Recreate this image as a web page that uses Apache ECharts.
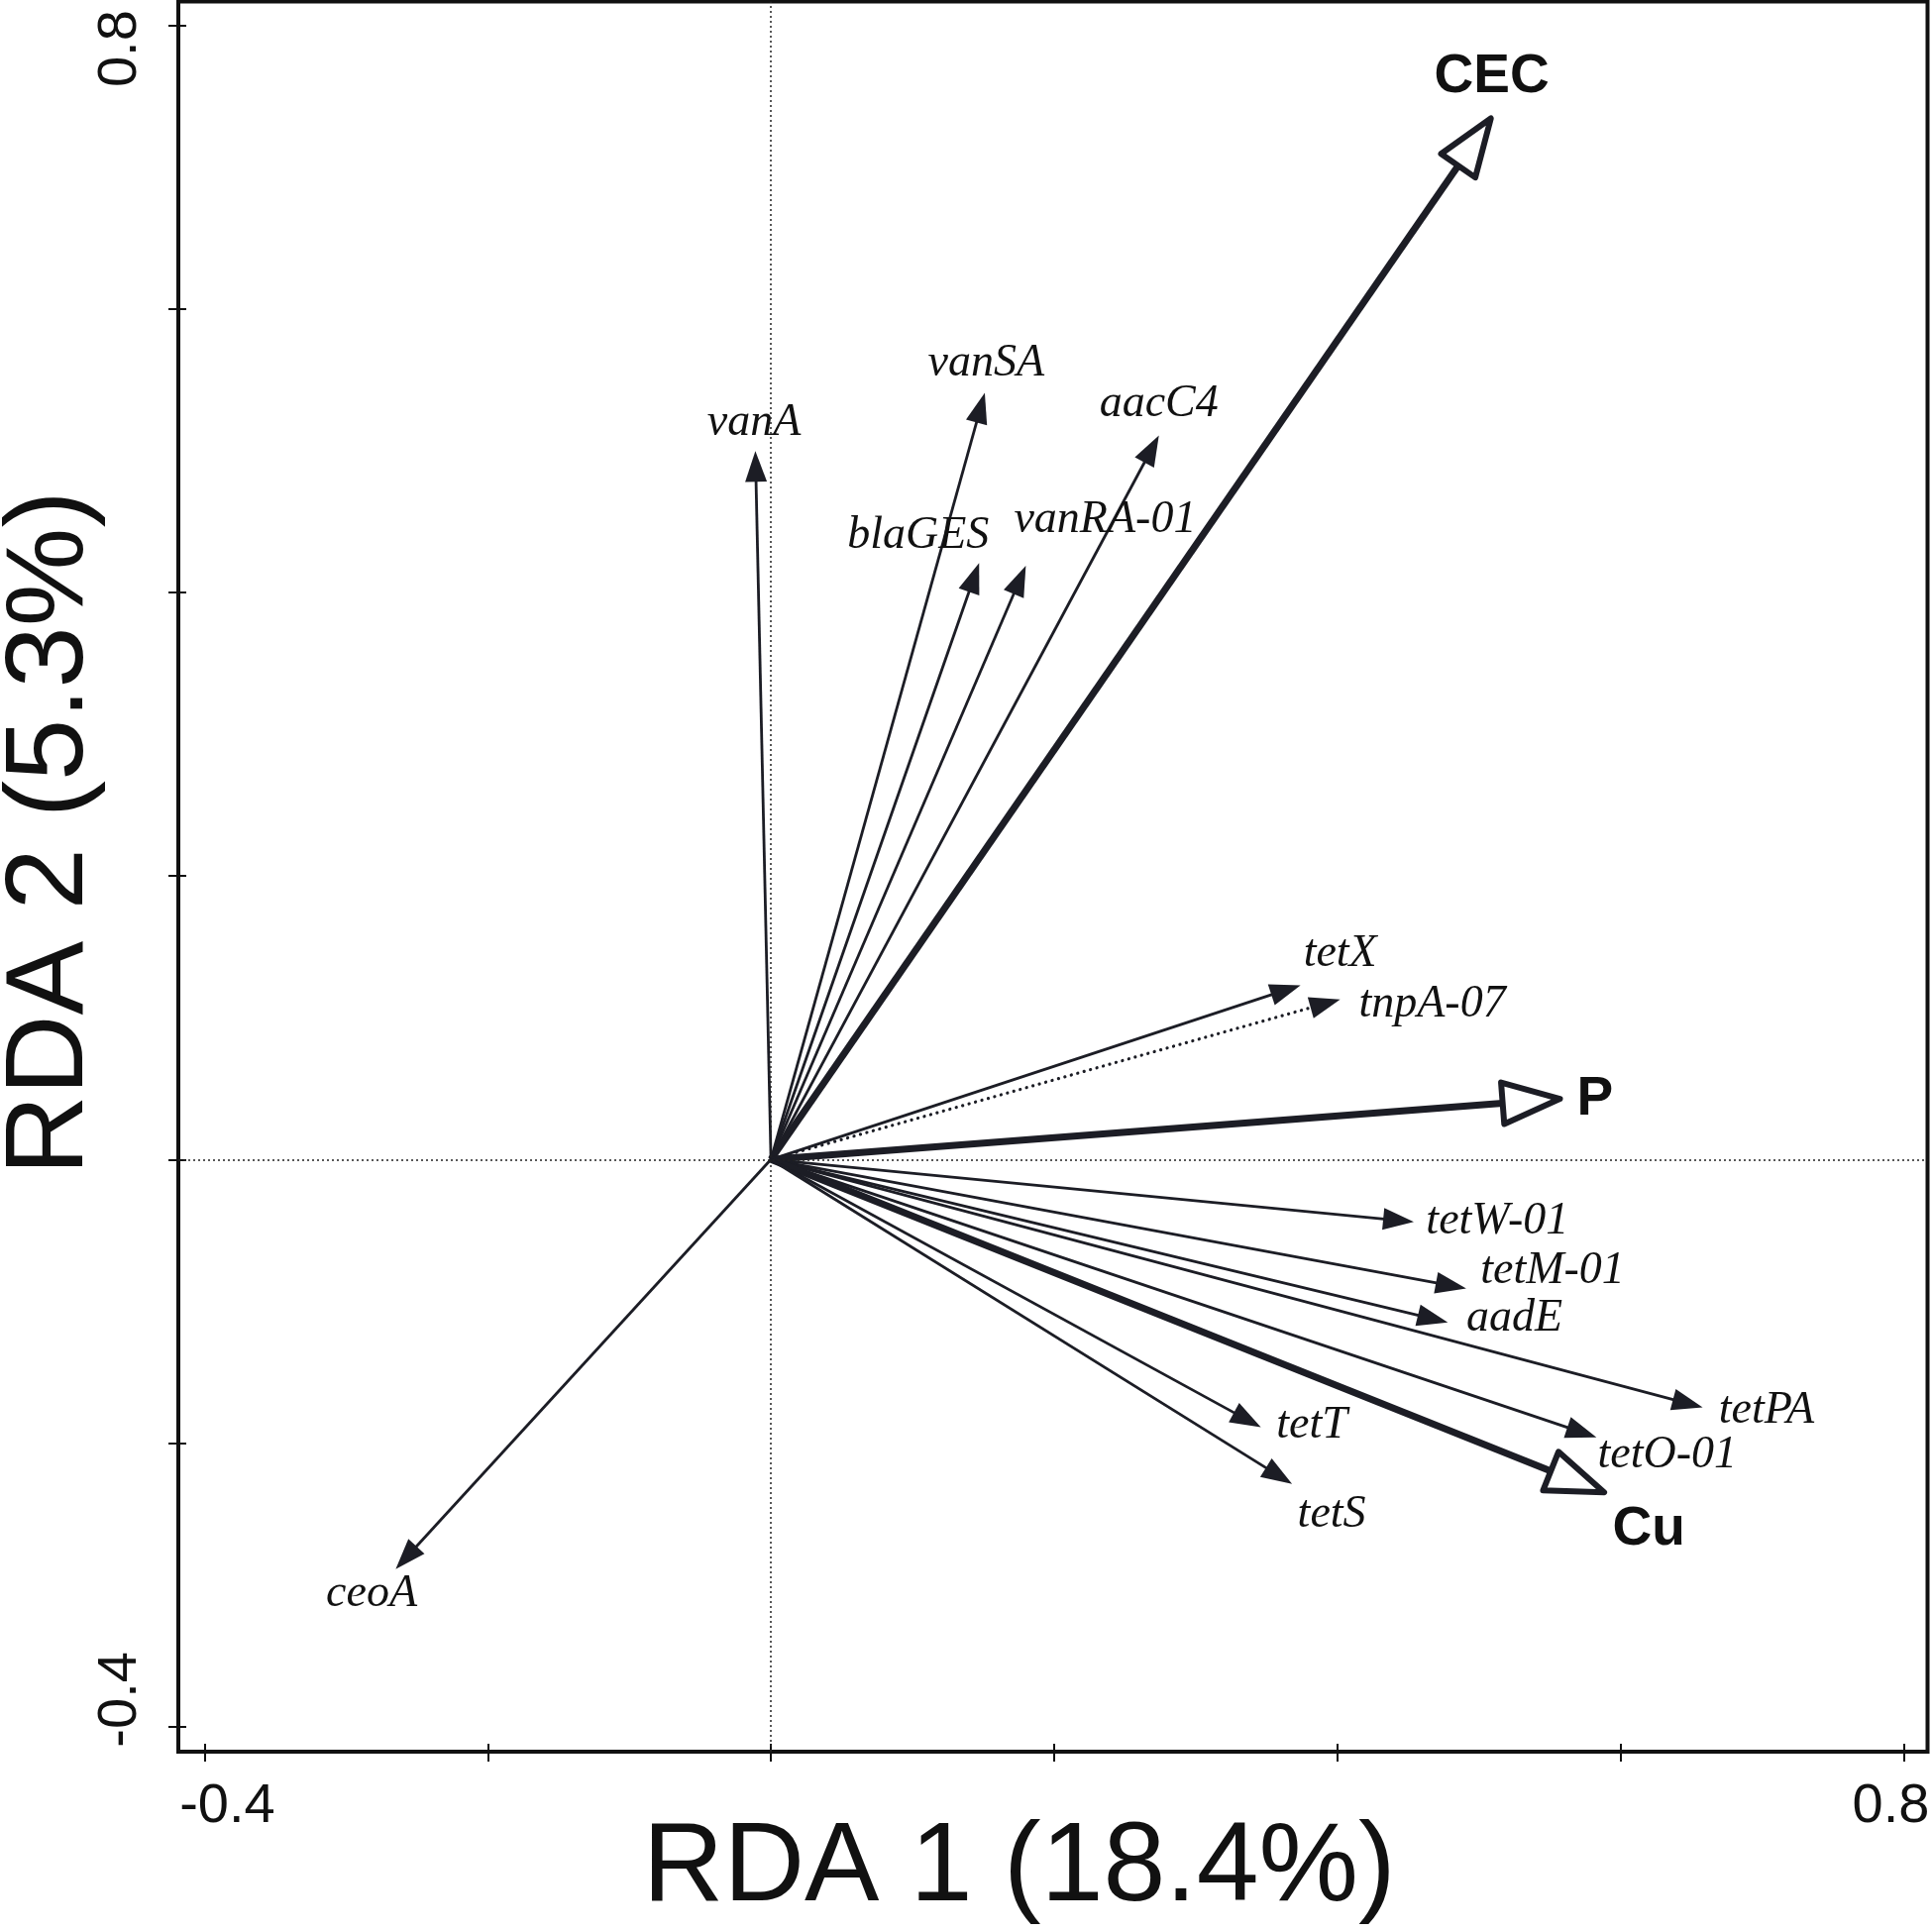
<!DOCTYPE html>
<html>
<head>
	<meta charset="utf-8" />
	<title>RDA biplot</title>
	<script src="https://cdn.jsdelivr.net/npm/echarts@6/dist/echarts.min.js"></script>
	<style>
		* { margin: 0; padding: 0; }
		html, body { background: #fff; }
		#main { width: 1950px; height: 1950px; }
	</style>
</head>
<body>
	<div id="main"></div>
	<script>
		// arrow names, end points (RDA1, RDA2) and kind: gene / mge (dotted) / env (open head)
		var names = ['vanA', 'vanSA', 'aacC4', 'blaGES', 'vanRA-01', 'CEC', 'tetX', 'tnpA-07', 'P',
			'tetW-01', 'tetM-01', 'aadE', 'tetPA', 'tetO-01', 'Cu', 'tetT', 'tetS', 'ceoA'];
		var rda1 = [-0.011, 0.151, 0.274, 0.147, 0.180, 0.510, 0.374, 0.402, 0.560,
			0.454, 0.491, 0.478, 0.658, 0.583, 0.591, 0.346, 0.368, -0.265];
		var rda2 = [0.500, 0.541, 0.511, 0.421, 0.419, 0.737, 0.123, 0.113, 0.043,
			-0.044, -0.091, -0.115, -0.175, -0.196, -0.236, -0.189, -0.229, -0.289];
		var kinds = ['gene', 'gene', 'gene', 'gene', 'gene', 'env', 'gene', 'mge', 'env',
			'gene', 'gene', 'gene', 'gene', 'gene', 'env', 'gene', 'gene', 'gene'];
		// where each name is written (same units as the axes)
		var labelX = [-0.012, 0.152, 0.274, 0.104, 0.236, 0.509, 0.402, 0.467, 0.582,
			0.513, 0.552, 0.525, 0.703, 0.633, 0.620, 0.382, 0.396, -0.282];
		var labelY = [0.520, 0.562, 0.533, 0.440, 0.451, 0.764, 0.145, 0.109, 0.042,
			-0.044, -0.079, -0.112, -0.177, -0.209, -0.261, -0.188, -0.251, -0.307];

		var tickValues = [-0.4, -0.2, 0, 0.2, 0.4, 0.6, 0.8];
		var tickLabels = [-0.4, 0.8];
		var xTitle = 'RDA 1 (18.4%)';
		var yTitle = 'RDA 2 (5.3%)';

		var ink = '#1c1d25';

		var myChart = echarts.init(document.getElementById('main'));

		var arrowData = [];
		for (var i = 0; i < names.length; i++) {
			arrowData.push([rda1[i], rda2[i], labelX[i], labelY[i]]);
		}

		function renderArrow(params, api) {
			var i = params.dataIndex;
			var o = api.coord([0, 0]);
			var t = api.coord([api.value(0), api.value(1)]);
			var lp = api.coord([api.value(2), api.value(3)]);
			var dx = t[0] - o[0], dy = t[1] - o[1];
			var len = Math.sqrt(dx * dx + dy * dy);
			var ux = dx / len, uy = dy / len, nx = -uy, ny = ux;
			var env = kinds[i] === 'env';
			var dotted = kinds[i] === 'mge';
			var hl = env ? 58 : 31, hw = env ? 21 : 11;
			// open heads: pull the outline back a little so its outer edge sits on the tip
			var tx = env ? t[0] - ux * 4 : t[0], ty = env ? t[1] - uy * 4 : t[1];
			var bx = tx - ux * hl, by = ty - uy * hl;
			var endX = env ? bx : bx + ux * 6, endY = env ? by : by + uy * 6;
			var children = [];
			children.push({
				type: 'line',
				shape: { x1: o[0], y1: o[1], x2: endX, y2: endY },
				style: {
					stroke: ink,
					lineWidth: env ? 7 : (dotted ? 3.2 : 2.8),
					lineDash: dotted ? [0.1, 6.6] : null,
					lineCap: dotted ? 'round' : 'butt'
				}
			});
			children.push({
				type: 'polygon',
				shape: { points: [[tx, ty], [bx + nx * hw, by + ny * hw], [bx - nx * hw, by - ny * hw]] },
				style: env ? { fill: '#fff', stroke: ink, lineWidth: 6, lineJoin: 'round' } : { fill: ink }
			});
			children.push({
				type: 'text',
				x: lp[0],
				y: lp[1],
				style: {
					text: names[i],
					fill: '#111',
					fontFamily: env ? 'Liberation Sans' : 'Liberation Serif',
					fontStyle: env ? 'normal' : 'italic',
					fontWeight: env ? 'bold' : 'normal',
					fontSize: env ? 55 : 46,
					align: 'center',
					verticalAlign: 'middle'
				}
			});
			return { type: 'group', children: children };
		}

		var option = {
			animation: false,
			grid: {
				left: 180,
				right: 4.5,
				top: 1.5,
				bottom: 182,
				outerBoundsMode: 'none',
				containLabel: false,
				show: true,
				borderColor: '#111',
				borderWidth: 4
			},
			xAxis: {
				type: 'value',
				min: -0.4185,
				max: 0.8168,
				offset: -8,
				axisLine: { show: false, onZero: false },
				splitLine: { show: false },
				axisTick: {
					length: 18,
					customValues: tickValues,
					lineStyle: { color: '#111', width: 2 }
				},
				axisLabel: {
					customValues: tickLabels,
					margin: 36,
					formatter: function (v) {
						return v < 0 ? '{lo|' + v.toFixed(1) + '}' : '{hi|' + v.toFixed(1) + '}';
					},
					rich: {
						lo: { fontSize: 56, fontFamily: 'Liberation Sans', color: '#111', padding: [0, 0, 0, 46] },
						hi: { fontSize: 56, fontFamily: 'Liberation Sans', color: '#111', padding: [0, 26, 0, 0] }
					}
				},
				name: xTitle,
				nameLocation: 'middle',
				nameGap: 70,
				nameMoveOverlap: false,
				nameTextStyle: {
					fontSize: 113,
					fontFamily: 'Liberation Sans',
					color: '#111',
					padding: [0, 68, 0, 0]
				}
			},
			yAxis: {
				type: 'value',
				min: -0.4179,
				max: 0.8172,
				offset: -8,
				axisLine: { show: false, onZero: false },
				splitLine: { show: false },
				axisTick: {
					length: 18,
					customValues: tickValues,
					lineStyle: { color: '#111', width: 2 }
				},
				axisLabel: {
					customValues: tickLabels,
					rotate: 90,
					margin: 38,
					formatter: function (v) {
						return v < 0 ? '{lo|' + v.toFixed(1) + '}' : '{hi|' + v.toFixed(1) + '}';
					},
					rich: {
						lo: { fontSize: 56, fontFamily: 'Liberation Sans', color: '#111', padding: [0, 0, 0, 54] },
						hi: { fontSize: 56, fontFamily: 'Liberation Sans', color: '#111', padding: [0, 46, 0, 0] }
					}
				},
				name: yTitle,
				nameLocation: 'middle',
				nameGap: 80,
				nameMoveOverlap: false,
				nameTextStyle: {
					fontSize: 112,
					fontFamily: 'Liberation Sans',
					color: '#111',
					padding: [0, 0, 0, 88]
				}
			},
			series: [
				{
					// dotted zero lines
					type: 'line',
					data: [],
					z: 1,
					silent: true,
					markLine: {
						silent: true,
						symbol: ['none', 'none'],
						label: { show: false },
						lineStyle: { type: [2, 3], width: 1.5, color: '#222' },
						emphasis: { disabled: true },
						data: [{ xAxis: 0 }, { yAxis: 0 }]
					}
				},
				{
					type: 'custom',
					z: 3,
					silent: true,
					clip: false,
					renderItem: renderArrow,
					encode: { x: 0, y: 1 },
					data: arrowData
				}
			]
		};
		myChart.setOption(option);
	</script>
</body>
</html>
